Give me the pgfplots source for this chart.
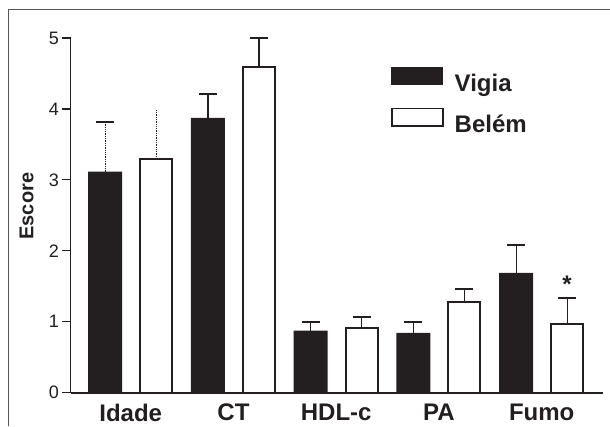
\documentclass[border=0pt]{standalone}
\usepackage{fontspec}
\setmainfont{Liberation Sans}
\usepackage{pgfplots}
\pgfplotsset{compat=1.18}
\definecolor{barblack}{HTML}{231F20}
\definecolor{framegray}{HTML}{555555}
\begin{document}
\begin{tikzpicture}
\path[use as bounding box] (0,0) rectangle (610pt,426pt);
\draw[framegray, line width=1pt] (8pt,0pt) -- (8pt,416pt) -- (610pt,416pt);
\begin{axis}[
  at={(70.5pt,33.3pt)}, anchor=south west,
  scale only axis, width=532.5pt, height=354.7pt,
  xmin=-0.586, xmax=4.597, ymin=0, ymax=5,
  clip=false,
  axis lines*=left,
  x axis line style={line width=2pt, barblack},
  y axis line style={line width=1.2pt, barblack},
  ytick={0,1,2,3,4,5},
  xtick={0,1,2,3,4},
  xticklabels={Idade,CT,HDL-c,PA,Fumo},
  tick align=outside,
  major tick length=8pt,
  xtick style={draw=none},
  ytick style={line width=1.2pt, barblack},
  /pgf/number format/assume math mode=true,
  yticklabel style={font=\fontsize{18}{20}\selectfont, text=barblack},
  xticklabel style={font=\fontsize{24}{26}\selectfont\bfseries, text=barblack},
  ylabel={Escore},
  every axis y label/.style={at={(axis description cs:-0.0826,0.526)}, rotate=90, anchor=center, font=\fontsize{20}{22}\selectfont\bfseries, text=barblack},
  legend style={draw=none, fill=none, at={(0.6019,0.92)}, anchor=north west,
    inner sep=0pt, row sep=11.5pt, column sep=11pt,
    font=\fontsize{24}{26}\selectfont\bfseries, text=barblack,
    nodes={inner sep=0pt, text height=17pt, text depth=5pt}},
  legend cell align=left,
  errbar/.style={forget plot, draw=none, mark=none,
    /pgfplots/error bars/y dir=plus, /pgfplots/error bars/y explicit,
    /pgfplots/error bars/error bar style={line width=1.3pt, draw=barblack, solid},
    /pgfplots/error bars/error mark options={rotate=90, line width=2pt, mark size=9pt, draw=barblack, solid}},
]
% bars
\addplot[ybar, bar width=34pt, bar shift=-25.5pt, fill=barblack, draw=none,
  legend image code/.code={\draw[fill=barblack, draw=barblack, line width=1pt] (0pt,0.5pt) rectangle (51pt,18pt);}]
  coordinates {(0,3.117) (1,3.875) (2,0.874) (3,0.842) (4,1.688)};
\addlegendentry{Vigia}
\addplot[ybar, bar width=32pt, bar shift=25.5pt, fill=white, draw=barblack, line width=2pt,
  legend image code/.code={\draw[fill=white, draw=barblack, line width=1.5pt] (0pt,0.5pt) rectangle (51pt,18pt);}]
  coordinates {(0,3.29) (1,4.59) (2,0.913) (3,1.279) (4,0.973)};
\addlegendentry{Belém}
% error bars (x shifted by 25.5pt = 0.2482 units)
\addplot[errbar] coordinates {(0.7518,3.875) +- (0,0.335) (1.7518,0.874) +- (0,0.123) (2.7518,0.842) +- (0,0.155) (3.7518,1.688) +- (0,0.399)};
\addplot[errbar] coordinates {(1.2482,4.59) +- (0,0.41) (2.2482,0.913) +- (0,0.15) (3.2482,1.279) +- (0,0.188) (4.2482,0.973) +- (0,0.367)};
% Idade, dotted error bars
\addplot[errbar, /pgfplots/error bars/error bar style={densely dotted}] coordinates {(-0.2482,3.117) +- (0,0.693)};
\addplot[errbar, /pgfplots/error bars/error mark=none, /pgfplots/error bars/error bar style={densely dotted}] coordinates {(0.2482,3.29) +- (0,0.71)};
\node[anchor=base, font=\fontsize{24}{26}\selectfont\bfseries, text=barblack] at (axis cs:4.248,1.41) {*};
\end{axis}
\end{tikzpicture}
\end{document}
